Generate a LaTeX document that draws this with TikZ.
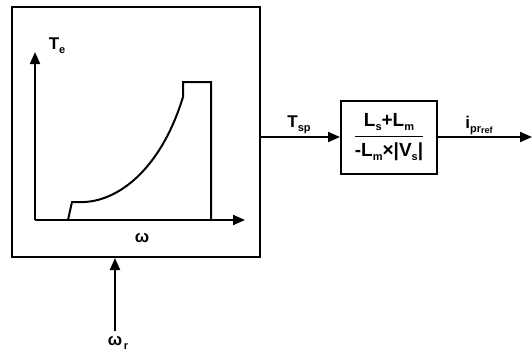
\documentclass[tikz,border=0pt]{standalone}
\usepackage{amsmath}
\usepackage{fontspec}
\setmainfont{Liberation Sans}
\usetikzlibrary{arrows.meta}
\tikzset{
  sig/.style={line width=2pt,-{Triangle[length=12pt,width=10pt]}},
  blk/.style={draw,line width=2pt,inner sep=0pt},
  crv/.style={line width=2pt},
  lbl/.style={font=\bfseries\fontsize{17}{19}\selectfont,inner sep=0pt}
}
\newcommand{\dn}[1]{\raisebox{-0.45ex}{\fontsize{11}{12}\selectfont #1}}
\newcommand{\ddn}[1]{\raisebox{-0.3ex}{\fontsize{9}{10}\selectfont #1}}

\begin{document}
\begin{tikzpicture}[x=1pt,y=-1pt]
\useasboundingbox (0,0) rectangle (532,354);
\node[blk,minimum width=248pt,minimum height=250pt] (lut) at (136,132) {};
\node[blk,minimum width=96pt,minimum height=73pt,lbl] (gain) at (389,137)
  {$\genfrac{}{}{1.6pt}{0}{\hbox{\bfseries\fontsize{19}{21}\selectfont L\dn{s}+L\dn{m}}}{\hbox{\bfseries\fontsize{19}{21}\selectfont -L\dn{m}×|V\dn{s}|}}$};
\coordinate (org) at (35,220);
\coordinate (tey) at (35,52);
\coordinate (tex) at (245,220);
\draw[sig] (org) -- (tey); \node[lbl] (te) at (57,46) {T\dn{e}};
\draw[sig] (org) -- (tex); \node[lbl] (w) at (142,238) {ω};
\draw[crv] (68,220) -- (72,202) -- (78,202) .. controls (115,204) and (160,172) .. (183,97) -- (183,82) -- (211,82) -- (211,220);
\draw[sig] (lut.east |- gain) -- (gain.west); \node[lbl] (tsp) at (299,125) {T\dn{sp}};
\coordinate (out) at (532,137);
\draw[sig] (gain.east) -- (out); \node[lbl] (ipr) at (479,125) {i\dn{pr\ddn{ref}}};
\coordinate (wr) at (115,331);
\draw[sig] (wr) -- (lut.south -| wr); \node[lbl] (wrl) at (118,343) {ω\dn{\,r}};
\end{tikzpicture}
\end{document}
